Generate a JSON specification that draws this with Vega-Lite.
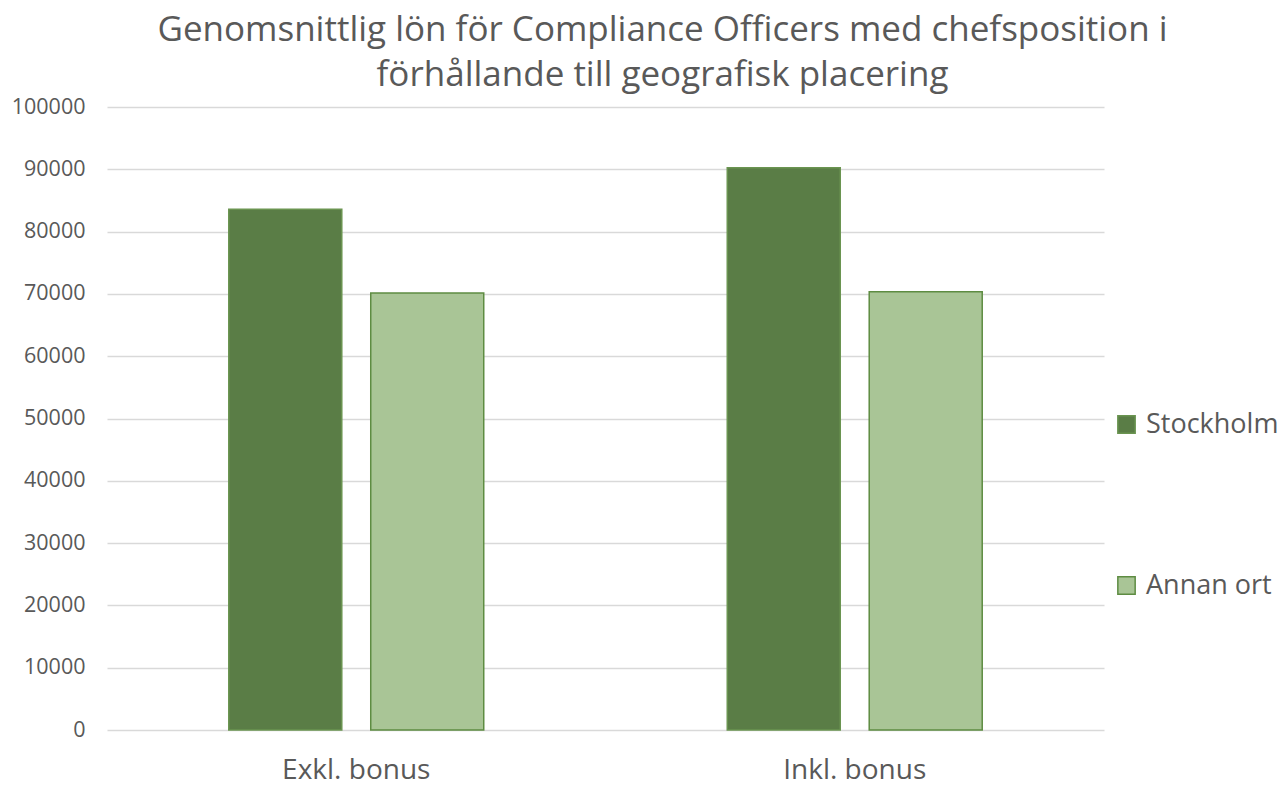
{
  "$schema": "https://vega.github.io/schema/vega-lite/v6.json",
  "autosize": {"type": "none"},
  "width": 997,
  "height": 623,
  "padding": {"left": 107, "top": 107, "right": 183, "bottom": 58},
  "background": "white",
  "title": {
    "text": ["Genomsnittlig lön för Compliance Officers med chefsposition i", "förhållande till geografisk placering"],
    "font": "Open Sans",
    "fontSize": 35,
    "fontWeight": "normal",
    "color": "#595959",
    "anchor": "middle",
    "dx": 57,
    "lineHeight": 45,
    "offset": 3
  },
  "data": {
    "values": [
      {"typ": "Exkl. bonus", "ort": "Stockholm", "lon": 83600},
      {"typ": "Exkl. bonus", "ort": "Annan ort", "lon": 70150},
      {"typ": "Inkl. bonus", "ort": "Stockholm", "lon": 90250},
      {"typ": "Inkl. bonus", "ort": "Annan ort", "lon": 70350}
    ]
  },
  "mark": {"type": "bar", "strokeWidth": 1.5},
  "encoding": {
    "x": {
      "field": "typ",
      "type": "nominal",
      "sort": ["Exkl. bonus", "Inkl. bonus"],
      "scale": {"paddingInner": 0.4885, "paddingOuter": 0.2443},
      "axis": {
        "title": null,
        "labelAngle": 0,
        "labelFont": "Open Sans",
        "labelFontSize": 28,
        "labelColor": "#595959",
        "labelPadding": 26,
        "ticks": false,
        "domain": false,
        "grid": false
      }
    },
    "xOffset": {
      "field": "ort",
      "type": "nominal",
      "sort": ["Stockholm", "Annan ort"],
      "scale": {"paddingInner": 0.204, "paddingOuter": 0}
    },
    "y": {
      "field": "lon",
      "type": "quantitative",
      "scale": {"domain": [0, 100000], "nice": false},
      "axis": {
        "title": null,
        "values": [0, 10000, 20000, 30000, 40000, 50000, 60000, 70000, 80000, 90000, 100000],
        "format": "d",
        "labelFont": "Open Sans",
        "labelFontSize": 21.5,
        "labelColor": "#595959",
        "labelPadding": 22,
        "ticks": false,
        "domain": false,
        "gridColor": "#D9D9D9",
        "gridWidth": 1.5
      }
    },
    "fill": {
      "field": "ort",
      "type": "nominal",
      "sort": ["Stockholm", "Annan ort"],
      "scale": {"domain": ["Stockholm", "Annan ort"], "range": ["#5A7D46", "#A9C596"]},
      "legend": {
        "title": null,
        "orient": "none",
        "legendX": 1006,
        "legendY": 304,
        "symbolType": "square",
        "symbolSize": 300,
        "symbolStrokeWidth": 1.5,
        "labelFont": "Open Sans",
        "labelFontSize": 27,
        "labelColor": "#595959",
        "labelOffset": 6,
        "rowPadding": 133
      }
    },
    "stroke": {
      "field": "ort",
      "type": "nominal",
      "sort": ["Stockholm", "Annan ort"],
      "scale": {"domain": ["Stockholm", "Annan ort"], "range": ["#6A9450", "#5E8C42"]},
      "legend": {
        "title": null,
        "orient": "none",
        "legendX": 1006,
        "legendY": 304,
        "symbolType": "square",
        "symbolSize": 300,
        "symbolStrokeWidth": 1.5,
        "labelFont": "Open Sans",
        "labelFontSize": 27,
        "labelColor": "#595959",
        "labelOffset": 6,
        "rowPadding": 133
      }
    }
  },
  "config": {"view": {"stroke": null}}
}
